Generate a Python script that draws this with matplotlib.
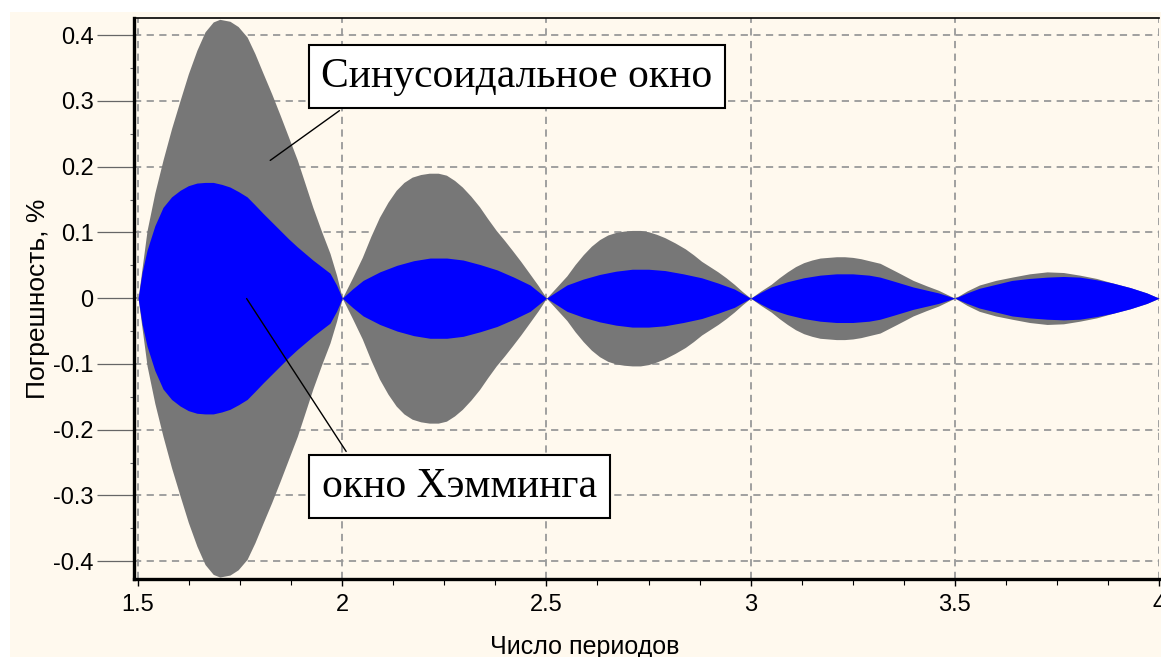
import numpy as np
import matplotlib.pyplot as plt
from matplotlib.patches import Rectangle
from matplotlib.ticker import MultipleLocator

# envelope of the error (symmetric about zero)
gray_x = [1.500, 1.522, 1.541, 1.561, 1.582, 1.603, 1.623, 1.644, 1.664, 1.684, 1.700, 1.725, 1.745, 1.767,
          1.786, 1.806, 1.827, 1.848, 1.869, 1.890, 1.909, 1.928, 1.949, 1.970, 1.986,
          2.000, 2.025, 2.049, 2.070, 2.091, 2.112, 2.132, 2.151, 2.171, 2.192, 2.213, 2.235, 2.255,
          2.275, 2.294, 2.315, 2.336, 2.356, 2.377, 2.397, 2.416, 2.437, 2.458, 2.480,
          2.500, 2.525, 2.550, 2.570, 2.590, 2.610, 2.630, 2.650, 2.670, 2.690, 2.710, 2.730, 2.750,
          2.770, 2.790, 2.815, 2.840, 2.860, 2.880, 2.900, 2.920, 2.940, 2.960, 2.980,
          3.000, 3.025, 3.050, 3.070, 3.090, 3.110, 3.130, 3.150, 3.170, 3.190, 3.210, 3.230, 3.250,
          3.270, 3.290, 3.317, 3.358, 3.398, 3.430, 3.460, 3.480,
          3.500, 3.530, 3.560, 3.600, 3.640, 3.683, 3.726, 3.766, 3.806, 3.847, 3.887, 3.930, 3.970, 4.000]
gray_amp = [0.0, 0.103, 0.160, 0.210, 0.258, 0.301, 0.341, 0.377, 0.405, 0.420, 0.424, 0.421, 0.413, 0.397,
            0.372, 0.342, 0.311, 0.278, 0.244, 0.210, 0.174, 0.138, 0.102, 0.068, 0.035,
            0.0, 0.031, 0.062, 0.094, 0.123, 0.146, 0.164, 0.176, 0.184, 0.188, 0.190, 0.190, 0.187,
            0.179, 0.169, 0.155, 0.139, 0.121, 0.103, 0.088, 0.073, 0.056, 0.038, 0.019,
            0.0, 0.017, 0.034, 0.051, 0.066, 0.079, 0.089, 0.096, 0.100, 0.102, 0.103, 0.103, 0.101,
            0.097, 0.092, 0.084, 0.075, 0.066, 0.056, 0.048, 0.040, 0.031, 0.021, 0.010,
            0.0, 0.011, 0.021, 0.031, 0.040, 0.048, 0.054, 0.058, 0.061, 0.062, 0.063, 0.063, 0.062,
            0.060, 0.057, 0.053, 0.040, 0.027, 0.019, 0.012, 0.006,
            0.0, 0.011, 0.020, 0.027, 0.032, 0.037, 0.040, 0.039, 0.035, 0.030, 0.023, 0.016, 0.008, 0.0]

blue_x = [1.500, 1.510, 1.522, 1.541, 1.561, 1.582, 1.603, 1.623, 1.644, 1.664, 1.684, 1.705, 1.725, 1.746,
          1.767, 1.786, 1.806, 1.827, 1.848, 1.869, 1.890, 1.909, 1.928, 1.949, 1.970, 1.986,
          2.000, 2.025, 2.051, 2.092, 2.134, 2.175, 2.215, 2.256, 2.296, 2.338, 2.379, 2.420, 2.460, 2.480,
          2.500, 2.525, 2.550, 2.590, 2.630, 2.670, 2.710, 2.750, 2.790, 2.835, 2.880, 2.920, 2.960, 2.980,
          3.000, 3.025, 3.050, 3.090, 3.130, 3.170, 3.210, 3.250, 3.290, 3.317, 3.350, 3.398, 3.460, 3.480,
          3.500, 3.530, 3.560, 3.600, 3.640, 3.683, 3.726, 3.766, 3.806, 3.847, 3.887, 3.930, 3.970, 4.000]
blue_amp = [0.0, 0.040, 0.073, 0.110, 0.138, 0.154, 0.164, 0.171, 0.175, 0.176, 0.176, 0.173, 0.169, 0.162,
            0.154, 0.142, 0.129, 0.116, 0.103, 0.090, 0.078, 0.068, 0.058, 0.048, 0.038, 0.020,
            0.0, 0.014, 0.027, 0.040, 0.050, 0.057, 0.061, 0.061, 0.058, 0.051, 0.043, 0.032, 0.020, 0.010,
            0.0, 0.010, 0.020, 0.029, 0.036, 0.041, 0.044, 0.044, 0.042, 0.037, 0.031, 0.023, 0.014, 0.007,
            0.0, 0.009, 0.017, 0.025, 0.031, 0.035, 0.037, 0.037, 0.035, 0.032, 0.026, 0.017, 0.008, 0.004,
            0.0, 0.008, 0.015, 0.021, 0.027, 0.030, 0.032, 0.033, 0.032, 0.028, 0.023, 0.016, 0.008, 0.0]

label_sin = 'Синусоидальное окно'
label_ham = 'окно Хэмминга'
xlabel = 'Число периодов'
ylabel = 'Погрешность, %'

cream = '#FFF9EE'

fig = plt.figure(figsize=(11.61, 6.57), dpi=100, facecolor='white')
fig.patches.append(Rectangle((10 / 1161, 0), 1, 1 - 12 / 657, transform=fig.transFigure,
                             facecolor=cream, edgecolor='none', zorder=-10))
ax = fig.add_axes([134 / 1161, 1 - 579 / 657, (1159 - 134) / 1161, (579 - 18) / 657])
ax.set_facecolor(cream)

gx = np.array(gray_x)
ga = np.array(gray_amp)
bx = np.array(blue_x)
ba = np.array(blue_amp)
ax.fill_between(gx, -ga, ga, color='#777777', linewidth=0, zorder=2)
ax.fill_between(bx, -ba, ba, color='#0000FF', linewidth=0, zorder=3)

ax.set_xlim(1.49, 4.0)
ax.set_ylim(-0.427, 0.426)
ax.xaxis.set_minor_locator(MultipleLocator(0.125))
ax.yaxis.set_minor_locator(MultipleLocator(0.05))
ax.set_yticks(np.arange(-0.4, 0.41, 0.1))
ax.set_yticklabels(['-0.4', '-0.3', '-0.2', '-0.1', '0', '0.1', '0.2', '0.3', '0.4'])
ax.set_xticks([1.5, 2, 2.5, 3, 3.5, 4])
ax.set_xticklabels(['1.5', '2', '2.5', '3', '3.5', '4'])

ax.grid(True, which='major', color='#999999', linestyle=(0, (4, 3)), linewidth=1.3, zorder=1)
ax.set_axisbelow(True)

for s in ['left', 'bottom']:
    ax.spines[s].set_linewidth(2.4)
ax.spines['top'].set_linewidth(1.2)
ax.spines['right'].set_visible(False)

ax.tick_params(axis='y', which='major', length=27, width=0.9, color='#666666', direction='out',
               labelsize=17, pad=2)
ax.tick_params(axis='y', which='minor', length=3, width=0.8, color='#666666', direction='out')
ax.tick_params(axis='x', which='major', length=5, width=1, direction='out', labelsize=17, pad=6)
ax.tick_params(axis='x', which='minor', length=4, width=0.8, direction='out')
for t in ax.get_yticklabels() + ax.get_xticklabels():
    t.set_family(['Liberation Sans', 'DejaVu Sans'])

ax.set_xlabel(xlabel, fontsize=18, family=['Liberation Sans', 'DejaVu Sans'], labelpad=4)
ax.xaxis.set_label_coords(0.44, -0.1)
ax.set_ylabel(ylabel, fontsize=19, family=['Liberation Sans', 'DejaVu Sans'], labelpad=2)

box = dict(boxstyle='square,pad=0.3', facecolor='white', edgecolor='black', linewidth=1.5)
ax.annotate(label_sin, xy=(1.818, 0.207), xytext=(2.427, 0.337), fontsize=30,
            family=['Liberation Serif', 'DejaVu Serif'], ha='center', va='center', bbox=box,
            arrowprops=dict(arrowstyle='-', color='black', lw=1, relpos=(0.10, 0.0)), zorder=5)
ax.annotate(label_ham, xy=(1.762, 0.003), xytext=(2.287, -0.286), fontsize=30,
            family=['Liberation Serif', 'DejaVu Serif'], ha='center', va='center', bbox=box,
            arrowprops=dict(arrowstyle='-', color='black', lw=1, relpos=(0.125, 1.0)), zorder=5)

fig.savefig('out.png', dpi=100, facecolor=fig.get_facecolor())
